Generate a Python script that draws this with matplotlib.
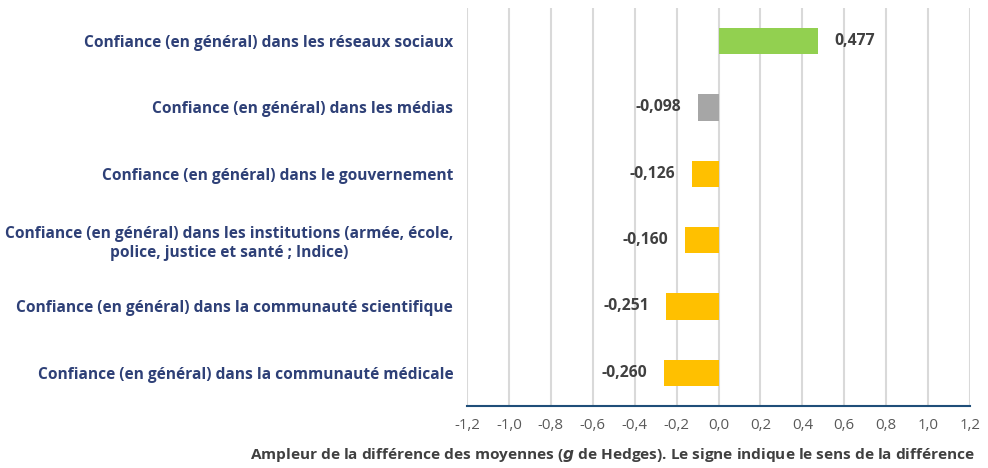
import numpy as np
from matplotlib import pyplot as plt

plt.rcParams['font.family'] = ['Open Sans', 'DejaVu Sans']

categories = [
    "Confiance (en général) dans les réseaux sociaux",
    "Confiance (en général) dans les médias",
    "Confiance (en général) dans le gouvernement",
    "Confiance (en général) dans les institutions (armée, école,\npolice, justice et santé ; Indice)",
    "Confiance (en général) dans la communauté scientifique",
    "Confiance (en général) dans la communauté médicale",
]
values = [0.477, -0.098, -0.126, -0.160, -0.251, -0.260]
bar_colors = ['#92D050', '#A6A6A6', '#FFC000', '#FFC000', '#FFC000', '#FFC000']
xticks = np.round(np.arange(-1.2, 1.21, 0.2), 1)

fig = plt.figure(figsize=(9.88, 4.68), dpi=100)
ax = fig.add_axes([0.4727, 0.1325, 0.5091, 0.8505])

y = np.arange(len(categories))
ax.barh(y, values, height=0.4, color=bar_colors, zorder=3)

# value labels outside the bar ends
for yi, v in zip(y, values):
    txt = f"{v:.3f}".replace('.', ',')
    if v >= 0:
        ax.text(v + 0.075, yi, txt, ha='left', va='center', fontsize=11.3,
                fontweight='bold', color='#404040')
    else:
        ax.text(v - 0.08, yi, txt, ha='right', va='center', fontsize=11.3,
                fontweight='bold', color='#404040')

ax.set_xlim(-1.2, 1.2)
ax.set_ylim(len(categories) - 0.5, -0.5)
ax.set_xticks(xticks)
ax.set_xticklabels([f"{t:.1f}".replace('.', ',') if t != 0 else "0,0" for t in xticks],
                   fontsize=10.8, color='#595959')
ax.set_yticks(y)
ax.set_yticklabels(categories, fontsize=11.2, fontweight='bold', color='#2E4077',
                   multialignment='center', linespacing=1.25)
ax.tick_params(axis='y', length=0, pad=10)
ax.tick_params(axis='x', length=0, pad=9)

ax.grid(axis='x', color='#D9D9D9', linewidth=1.5, zorder=0)
for side in ['top', 'right', 'left']:
    ax.spines[side].set_visible(False)
ax.spines['bottom'].set_color('#1F4E79')
ax.spines['bottom'].set_linewidth(1.5)
ax.spines['bottom'].set_zorder(4)

fig.text(0.987, 0.008, "Ampleur de la différence des moyennes ($\\mathbfit{g}$ de Hedges). Le signe indique le sens de la différence",
         ha='right', va='bottom', fontsize=11.1, fontweight='bold', color='#404040')

fig.savefig('out.png', dpi=100)
